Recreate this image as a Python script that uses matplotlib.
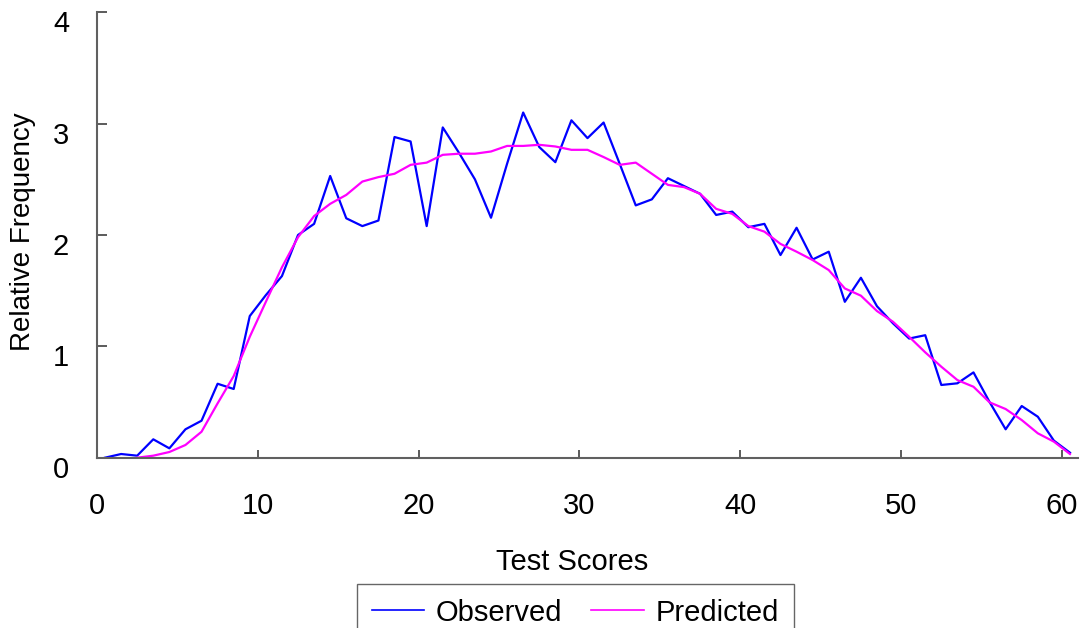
import numpy as np
import matplotlib
matplotlib.use("Agg")
import matplotlib.pyplot as plt
from matplotlib.transforms import ScaledTranslation

plt.rcParams['font.family'] = ['Liberation Sans', 'DejaVu Sans']

# scores are plotted at bin midpoints
scores = np.arange(61) + 0.5
observed = [0.0, 0.033, 0.018, 0.165, 0.084, 0.255, 0.332, 0.664, 0.617, 1.272,
            1.46, 1.631, 2.0, 2.10, 2.53, 2.15, 2.08, 2.13, 2.88, 2.84,
            2.08, 2.966, 2.74, 2.50, 2.155, 2.64, 3.10, 2.79, 2.654, 3.03,
            2.87, 3.01, 2.64, 2.266, 2.32, 2.51, 2.44, 2.37, 2.18, 2.21,
            2.07, 2.10, 1.82, 2.065, 1.78, 1.85, 1.40, 1.616, 1.36, 1.206,
            1.07, 1.10, 0.653, 0.668, 0.766, 0.50, 0.255, 0.464, 0.368, 0.153,
            0.045]

pred_scores = np.arange(2, 61) + 0.5
predicted = [0.0, 0.018, 0.051, 0.114, 0.233, 0.488, 0.733, 1.086, 1.40, 1.71,
             1.98, 2.17, 2.28, 2.36, 2.48, 2.52, 2.55, 2.63, 2.65, 2.72,
             2.73, 2.73, 2.75, 2.80, 2.80, 2.81, 2.795, 2.765, 2.765, 2.70,
             2.63, 2.65, 2.55, 2.45, 2.43, 2.37, 2.235, 2.19, 2.08, 2.03,
             1.92, 1.85, 1.775, 1.685, 1.52, 1.455, 1.317, 1.22, 1.086, 0.946,
             0.817, 0.697, 0.637, 0.497, 0.437, 0.338, 0.219, 0.144, 0.033]

x_ticks = [0, 10, 20, 30, 40, 50, 60]
y_ticks = [0, 1, 2, 3, 4]

fig = plt.figure(figsize=(10.91, 6.28), dpi=100)
ax = fig.add_axes([0.0889, 0.2712, 0.8992, 0.7092])

ax.plot(scores, observed, color='#0000FF', lw=1.6, label='Observed', clip_on=False)
ax.plot(pred_scores, predicted, color='#FF00FF', lw=1.6, label='Predicted', clip_on=False)

ax.set_xlim(0, 61)
ax.set_ylim(0, 4)
ax.set_xticks(x_ticks)
ax.set_yticks(y_ticks)

for s in ['top', 'right']:
    ax.spines[s].set_visible(False)
for s in ['left', 'bottom']:
    ax.spines[s].set_color('#606060')
    ax.spines[s].set_linewidth(1.5)

ax.tick_params(axis='x', direction='in', length=6, width=1.2, color='#404040',
               labelsize=21, pad=25)
ax.tick_params(axis='y', direction='in', length=7.5, width=1.2, color='#404040',
               labelsize=21, pad=20)

# Excel-style labels sit a bit below their ticks
shift = ScaledTranslation(0, -9 / 100, fig.dpi_scale_trans)
for lab in ax.get_yticklabels():
    lab.set_transform(lab.get_transform() + shift)

ax.set_xlabel('Test Scores', fontsize=21)
ax.xaxis.set_label_coords(0.484, -0.203)
ax.set_ylabel('Relative Frequency', fontsize=20)
ax.yaxis.set_label_coords(-0.062, 0.507)

leg = fig.legend(loc='upper left', bbox_to_anchor=(357 / 1091, 1 - 584 / 628),
                 ncol=2, fontsize=21, frameon=True, fancybox=False, shadow=False,
                 handlelength=1.8, handletextpad=0.4, columnspacing=1.0,
                 borderpad=0.5, borderaxespad=0)
leg.get_frame().set_edgecolor('#404040')
leg.get_frame().set_linewidth(1.0)
for h in leg.get_lines():
    h.set_linewidth(1.2)

fig.savefig('out.png', dpi=100)
